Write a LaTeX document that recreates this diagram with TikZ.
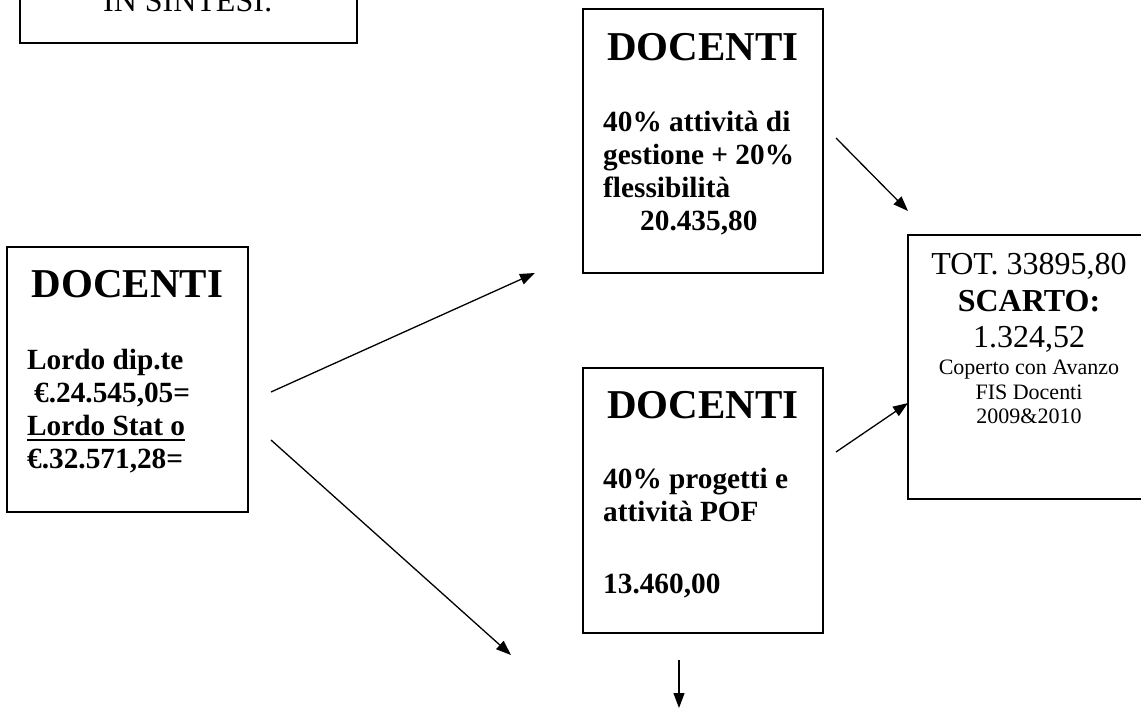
\documentclass[tikz,border=0pt]{standalone}
\usepackage{fontspec}
\setmainfont{Liberation Serif}
\usepackage{tikz}
\usetikzlibrary{arrows.meta, positioning}

\newcommand{\thickul}[1]{\leavevmode\vtop{\hbox{#1}\kern3pt\hrule height 2.4pt}}

\begin{document}
\begin{tikzpicture}[
x=1pt, y=1pt,
boxnode/.style={draw, line width=1.6pt, inner sep=0pt, outer sep=0pt},
titlenode/.style={anchor=base, inner sep=0pt, font=\bfseries\fontsize{41}{45}\selectfont},
bodynode/.style={anchor=north west, inner sep=0pt, align=left, font=\bfseries\fontsize{29.3}{33}\selectfont},
arrowline/.style={line width=1.3pt, -{Triangle[length=15pt,width=11pt]}},
]
\useasboundingbox (0,0) rectangle (1141,-709);
\clip (0,0) rectangle (1141,-709);

%Nodes
\node[boxnode, minimum width=337, minimum height=73] (sintesi) at (188.5,-6.5) {};
\node[anchor=base, inner sep=0pt, font=\fontsize{32}{36}\selectfont] (sintesi_title) at (188,-12) {IN SINTESI:};

\node[boxnode, minimum width=241, minimum height=265] (lordo) at (127.5,-379.5) {};
\node[titlenode] (lordo_title) at (127.5,-297) {DOCENTI};
\node[bodynode] (lordo_text) at (27,-349) {Lordo dip.te\\\hspace{7pt}€.24.545,05=\\\thickul{Lordo Stat o}\\€.32.571,28=};

\node[boxnode, minimum width=240, minimum height=264] (gestione) at (703,-141) {};
\node[titlenode] (gestione_title) at (703,-60) {DOCENTI};
\node[bodynode] (gestione_text) at (603,-110.5) {40\% attività di\\gestione + 20\%\\flessibilità\\\hspace{37pt}20.435,80};

\node[boxnode, minimum width=240, minimum height=265] (progetti) at (703,-500.5) {};
\node[titlenode] (progetti_title) at (703,-418) {DOCENTI};
\node[bodynode] (progetti_text) at (603,-468) {40\% progetti e\\attività POF\\[39pt]13.460,00};

\node[boxnode, minimum width=244, minimum height=264] (totale) at (1030,-367) {};
\node[anchor=north, inner sep=0pt, align=center, font=\fontsize{32}{36.5}\selectfont] (totale_text) at (1029,-253.4) {TOT. 33895,80\\\textbf{SCARTO:}\\1.324,52};
\node[anchor=north, inner sep=0pt, align=center, font=\fontsize{22}{24.5}\selectfont] (avanzo_text) at (1029,-360.1) {Coperto con Avanzo\\FIS Docenti\\2009\&2010};

\coordinate (lordo_end) at (511,-655);
\coordinate (progetti_end) at (679,-708);

%Lines
\draw[arrowline] ([shift={(23,-12.5)}]lordo.east) -- ([xshift=-48]gestione.south west);
\draw[arrowline] ([shift={(23,-60.5)}]lordo.east) -- (lordo_end);
\draw[arrowline] ([shift={(13,3)}]gestione.east) -- ([yshift=24]totale.north west);
\draw[arrowline] ([shift={(13,48.5)}]progetti.east) -- ([yshift=-36]totale.west);
\draw[arrowline] ([shift={(-24,-27)}]progetti.south) -- (progetti_end);

\end{tikzpicture}
\end{document}
